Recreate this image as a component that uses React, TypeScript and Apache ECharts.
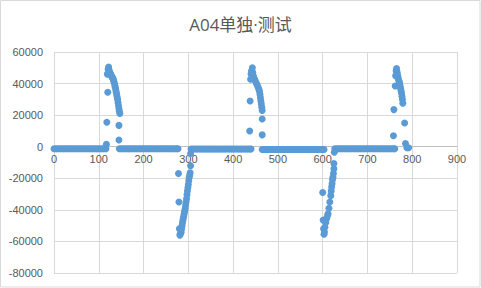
import React, { useEffect, useRef } from "react";
import * as echarts from "echarts";

const title = "A04单独·测试";
const xTicks = { min: 0, max: 900, interval: 100 };
const yTicks = { min: -80000, max: 60000, interval: 20000 };

// flat baseline stretches: x positions and their level
const baseX1 = [0,4,8,12,16,20,24,28,32,36,40,44,48,52,56,60,64,68,72,76,80,84,88,92,96,100,104,108,112,116];
const baseX2 = [146,150,154,158,162,166,170,174,178,182,186,190,194,198,202,206,210,214,218,222,226,230,234,238,242,246,250,254,258,262,266,270,274,277];
const baseX3 = [306,310,314,318,322,326,330,334,338,342,346,350,354,358,362,366,370,374,378,382,386,390,394,398,402,406,410,414,418,422,426,430,434,438,440];
const baseX4 = [465,469,473,477,481,485,489,493,497,501,505,509,513,517,521,525,529,533,537,541,545,549,553,557,561,565,569,573,577,581,585,589,593,597,601,603];
const baseX5 = [627,631,635,639,643,647,651,655,659,663,667,671,675,679,683,687,691,695,699,703,707,711,715,719,723,727,731,735,739,743,747,751,755,759,761];
const baseX6 = [788, 792];
const baseLevels = [-1300, -1300, -1500, -1800, -1300, -700];

// spikes [x, y]
const spike1: [number, number][] = [
  [117,1500],[118,15500],[119,46000],[120,34500],[121,49000],[122,50500],[123,48500],[124,47500],[125,46800],
  [126,46000],[127,45500],[128,45000],[129,44500],[130,44000],[131,43500],[132,43000],[133,42000],[134,41000],
  [135,40000],[136,38500],[137,37500],[138,36000],[139,34500],[140,33000],[141,31500],[142,30000],[143,28000],
  [144,26000],[145,24000],[146,22500],[147,21000],[145,13500],[145,4300]
];
const spike2: [number, number][] = [
  [278,-17000],[279,-35000],[280,-52000],[281,-56000],[282,-55500],[283,-54500],[284,-54000],[285,-52000],
  [286,-50000],[287,-48000],[288,-46500],[289,-45000],[290,-43500],[291,-42000],[292,-40500],[293,-39000],
  [294,-37000],[295,-35000],[296,-33000],[297,-30500],[298,-28000],[299,-26000],[300,-24000],[301,-21500],
  [302,-19500],[303,-18000],[304,-16500],[305,-12000],[305,-4300]
];
const spike3: [number, number][] = [
  [437,10000],[438,29000],[439,42700],[440,46000],[441,48000],[443,50000],[444,47000],[445,45000],[446,44000],
  [447,43000],[448,42500],[450,41500],[452,40000],[454,39000],[456,37500],[458,36000],[459,35000],[460,33000],
  [461,31000],[462,29000],[463,27000],[464,25000],[465,23000],[465,17600],[465,7500]
];
const spike4: [number, number][] = [
  [600,-29000],[601,-46500],[602,-52000],[603,-55500],[604,-54000],[605,-51000],[607,-48000],[609,-45500],
  [611,-43500],[612,-42500],[614,-39000],[616,-35000],[618,-31000],[619,-28000],[620,-25500],[621,-23500],
  [622,-21000],[623,-19300],[624,-17000],[625,-14000],[625,-10700],[626,-3500]
];
const spike5: [number, number][] = [
  [758,7000],[759,23500],[762,38500],[763,45000],[764,48000],[765,49500],[766,47500],[767,46000],[768,44500],
  [769,43000],[770,42000],[771,41000],[772,40000],[773,38500],[774,37000],[775,35500],[776,34000],[777,32000],
  [778,30000],[779,27500],[783,15000],[785,2000]
];

export default function App() {
  const ref = useRef<HTMLDivElement>(null);
  useEffect(() => {
    if (!ref.current) return;
    const chart = echarts.init(ref.current, undefined, { renderer: "svg" });
    const baseSets = [baseX1, baseX2, baseX3, baseX4, baseX5, baseX6];
    const data: [number, number][] = [];
    baseSets.forEach((xs, i) => xs.forEach((x) => data.push([x, baseLevels[i]])));
    [spike1, spike2, spike3, spike4, spike5].forEach((s) => s.forEach((p) => data.push(p)));
    const labelStyle = { color: "#595959", fontSize: 11, fontFamily: "Liberation Sans, Arial, sans-serif" };
    const gridTop = 52;
    const gridBottom = 15;
    const plotH = 288 - gridTop - gridBottom;
    const zeroOffset = -plotH * (0 - yTicks.min) / (yTicks.max - yTicks.min);
    chart.setOption({
      animation: false,
      backgroundColor: "#ffffff",
      title: {
        text: title,
        left: "center",
        top: 11,
        textStyle: { color: "#595959", fontSize: 17, fontWeight: "normal", fontFamily: "Open Sans, Noto Sans CJK SC, sans-serif" },
      },
      graphic: [
        { type: "rect", shape: { x: 0.5, y: 0.5, width: 479.5, height: 286.5 }, style: { fill: "none", stroke: "#D9D9D9", lineWidth: 1 }, silent: true },
      ],
      grid: { left: 54, right: 24, top: gridTop, bottom: gridBottom, containLabel: false },
      xAxis: {
        type: "value",
        min: xTicks.min,
        max: xTicks.max,
        interval: xTicks.interval,
        offset: zeroOffset,
        axisLine: { show: true, onZero: false, lineStyle: { color: "#BFBFBF" } },
        axisTick: { show: false },
        axisLabel: { ...labelStyle, margin: 7, formatter: (v: number) => String(v) },
        splitLine: { show: true, lineStyle: { color: "#D9D9D9" } },
      },
      yAxis: {
        type: "value",
        min: yTicks.min,
        max: yTicks.max,
        interval: yTicks.interval,
        axisLine: { show: false },
        axisTick: { show: false },
        axisLabel: { ...labelStyle, margin: 11, formatter: (v: number) => String(v) },
        splitLine: { show: true, lineStyle: { color: "#D9D9D9" } },
      },
      series: [
        {
          type: "scatter",
          data,
          symbol: "circle",
          symbolSize: 7,
          itemStyle: { color: "#5B9BD5", opacity: 1 },
        },
      ],
    });
    return () => chart.dispose();
  }, []);
  return <div ref={ref} style={{ position: "fixed", left: 0, top: 0, width: 481, height: 288 }} />;
}
